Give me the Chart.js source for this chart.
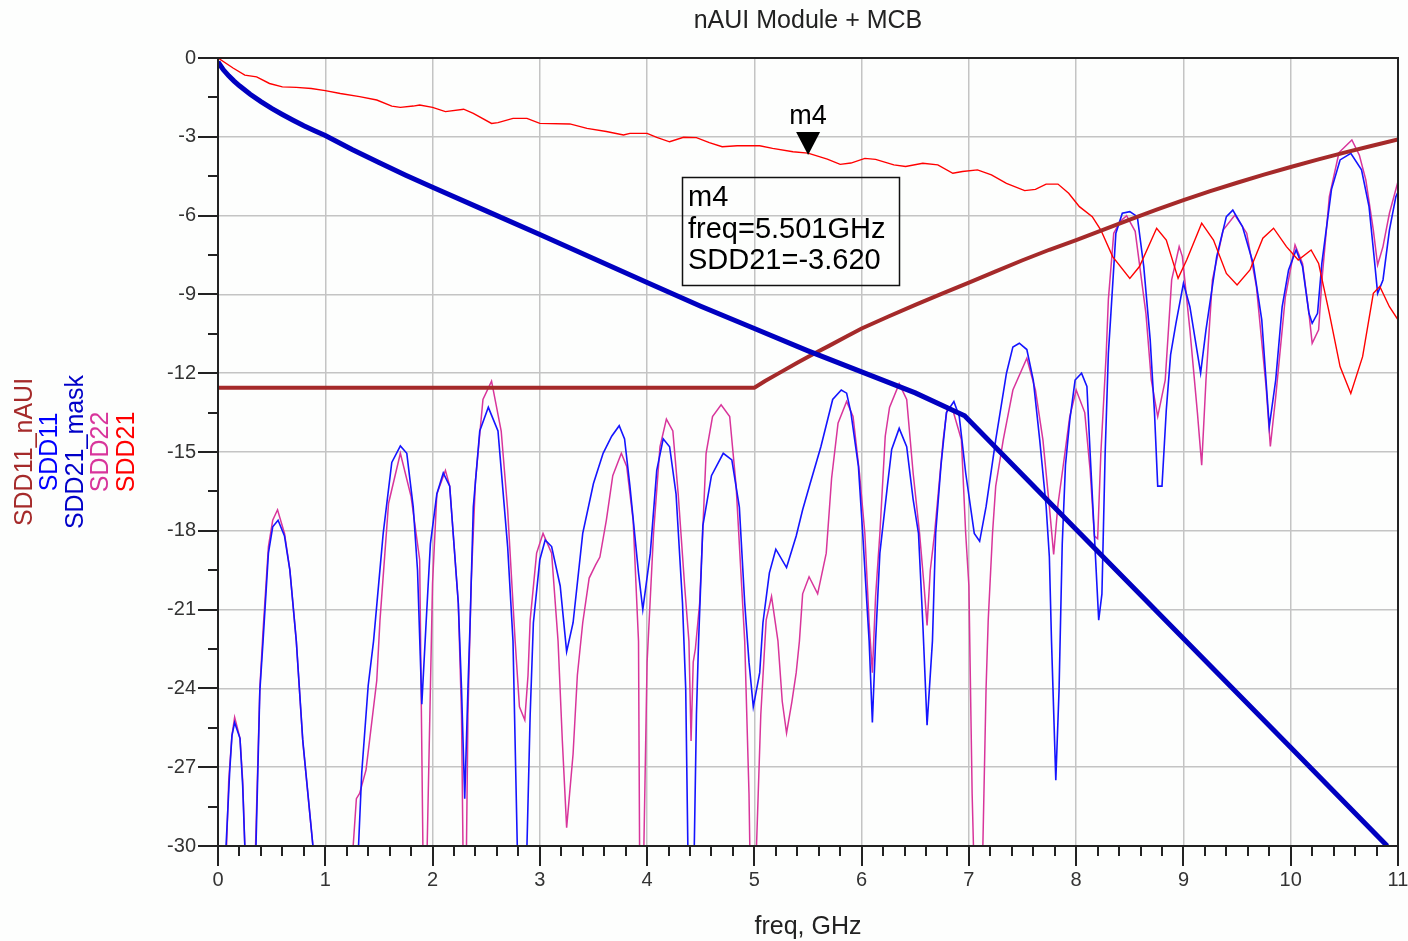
<!DOCTYPE html>
<html>
<head>
<meta charset="utf-8">
<script src="https://cdn.jsdelivr.net/npm/chart.js@4.4.1/dist/chart.umd.min.js"></script>
<style>
  html, body { margin: 0; padding: 0; background: #fdfefd; }
  #wrap { width: 1408px; height: 941px; }
</style>
</head>
<body>
<div id="wrap"><canvas id="chart" width="1408" height="941"></canvas></div>
<script>
// axis ranges / ticks
const xMax = 11, xStep = 1, xMinor = 0.2;
const yMin = -30, yMax = 0, yStep = 3, yMinor = 1.5;
const titleText = 'nAUI Module + MCB';
const xTitle = 'freq, GHz';
const legendNames = ['SDD11_nAUI', 'SDD11', 'SDD21_mask', 'SDD22', 'SDD21'];
const legendColors = ['#a52a2a', '#0000ff', '#0000c8', '#d8359b', '#ff0000'];
const markerName = 'm4', markerFreq = 5.501, markerDb = -3.620;

// [freq GHz, dB]; values below -30 run off the bottom
const sdd21 = [[0,0],[0.14,-0.38],[0.25,-0.65],[0.36,-0.72],[0.48,-0.97],[0.6,-1.1],[0.73,-1.12],[0.87,-1.16],[1.0,-1.24],[1.14,-1.35],[1.32,-1.47],[1.48,-1.6],[1.62,-1.83],[1.7,-1.88],[1.82,-1.83],[1.88,-1.79],[2.0,-1.88],[2.12,-2.04],[2.29,-1.95],[2.38,-2.11],[2.55,-2.49],[2.61,-2.46],[2.75,-2.3],[2.88,-2.3],[3.0,-2.49],[3.28,-2.51],[3.44,-2.68],[3.62,-2.8],[3.78,-2.93],[3.84,-2.87],[4.0,-2.87],[4.09,-3.02],[4.21,-3.19],[4.34,-3.02],[4.46,-3.03],[4.58,-3.22],[4.7,-3.38],[4.84,-3.34],[5.05,-3.34],[5.17,-3.44],[5.36,-3.57],[5.5,-3.62],[5.68,-3.85],[5.8,-4.05],[5.9,-4.0],[6.03,-3.82],[6.13,-3.86],[6.3,-4.07],[6.41,-4.13],[6.57,-4.01],[6.71,-4.07],[6.85,-4.39],[6.94,-4.32],[7.08,-4.26],[7.21,-4.45],[7.35,-4.77],[7.52,-5.05],[7.62,-5.0],[7.72,-4.8],[7.83,-4.8],[7.93,-5.15],[8.03,-5.66],[8.15,-6.04],[8.23,-6.55],[8.34,-7.56],[8.5,-8.39],[8.59,-7.94],[8.75,-6.48],[8.84,-6.93],[8.95,-8.39],[9.03,-7.69],[9.17,-6.29],[9.28,-6.93],[9.4,-8.2],[9.5,-8.64],[9.62,-8.07],[9.74,-6.86],[9.84,-6.48],[9.96,-7.18],[10.07,-7.69],[10.19,-7.31],[10.26,-7.82],[10.36,-9.72],[10.46,-11.75],[10.56,-12.77],[10.67,-11.37],[10.77,-8.96],[10.83,-8.7],[10.92,-9.47],[11.0,-9.97]];

const sdd11 = [[0.05,-36],[0.075,-30],[0.11,-27.1],[0.13,-25.8],[0.155,-25.3],[0.18,-25.6],[0.205,-25.9],[0.23,-27.7],[0.25,-30],[0.3,-37],[0.354,-30],[0.39,-24.1],[0.42,-22.2],[0.47,-18.85],[0.51,-17.85],[0.56,-17.6],[0.62,-18.2],[0.67,-19.5],[0.73,-22.2],[0.79,-25.96],[0.885,-30],[0.95,-36],[1.25,-36],[1.31,-30],[1.34,-27.2],[1.4,-23.9],[1.45,-22.2],[1.54,-18.1],[1.62,-15.4],[1.7,-14.77],[1.76,-15.05],[1.82,-17.1],[1.86,-19.5],[1.9,-24.6],[1.94,-21.5],[1.98,-18.5],[2.04,-16.6],[2.1,-15.8],[2.16,-16.3],[2.24,-20.75],[2.27,-24],[2.3,-28.2],[2.33,-24],[2.35,-21.5],[2.38,-17.1],[2.44,-14.2],[2.52,-13.3],[2.61,-14.2],[2.7,-18.6],[2.75,-22.2],[2.79,-30],[2.83,-36],[2.88,-30],[2.91,-25],[2.94,-21.5],[3.0,-19.1],[3.05,-18.35],[3.11,-18.6],[3.19,-20.1],[3.25,-22.6],[3.31,-21.5],[3.4,-18.1],[3.5,-16.2],[3.59,-15.05],[3.67,-14.4],[3.74,-14.0],[3.79,-14.5],[3.84,-16.3],[3.92,-19.6],[3.96,-21.0],[4.03,-18.85],[4.09,-15.7],[4.15,-14.5],[4.21,-14.8],[4.27,-16.6],[4.33,-20.75],[4.36,-24],[4.38,-30],[4.41,-36],[4.44,-30],[4.46,-25],[4.48,-22.2],[4.52,-17.8],[4.6,-15.9],[4.71,-15.05],[4.79,-15.3],[4.86,-17.1],[4.91,-20.75],[4.95,-23],[4.99,-24.7],[5.05,-23.4],[5.08,-21.5],[5.14,-19.6],[5.2,-18.7],[5.3,-19.4],[5.39,-18.2],[5.45,-17.2],[5.52,-16.2],[5.62,-14.8],[5.73,-13.0],[5.81,-12.64],[5.86,-12.76],[5.9,-13.5],[5.97,-15.55],[6.01,-18.1],[6.07,-22.2],[6.1,-25.3],[6.13,-22.2],[6.17,-18.85],[6.24,-16.3],[6.28,-14.9],[6.35,-14.1],[6.42,-14.8],[6.48,-16.8],[6.53,-18.1],[6.57,-21.5],[6.61,-25.4],[6.66,-22.2],[6.69,-18.1],[6.74,-15.5],[6.79,-13.5],[6.86,-13.08],[6.91,-13.65],[6.97,-15.8],[7.05,-18.1],[7.1,-18.4],[7.16,-17.08],[7.25,-14.54],[7.35,-12.0],[7.41,-11.0],[7.47,-10.86],[7.54,-11.1],[7.6,-12.26],[7.66,-14.54],[7.72,-17.08],[7.75,-19],[7.77,-22.2],[7.81,-27.5],[7.84,-24.1],[7.87,-18.5],[7.9,-15.5],[7.94,-13.8],[7.99,-12.26],[8.05,-12.0],[8.1,-12.5],[8.13,-15.05],[8.17,-18.2],[8.21,-21.4],[8.24,-20.4],[8.27,-15.05],[8.3,-11.25],[8.32,-9.97],[8.37,-6.67],[8.43,-5.91],[8.5,-5.85],[8.57,-6.04],[8.63,-7.94],[8.69,-10.73],[8.73,-13.5],[8.76,-16.3],[8.8,-16.3],[8.84,-13.4],[8.88,-11.3],[8.93,-10.1],[9.0,-8.58],[9.06,-9.47],[9.16,-12.0],[9.21,-10.35],[9.31,-7.56],[9.4,-6.04],[9.46,-5.79],[9.55,-6.42],[9.65,-7.82],[9.73,-9.97],[9.8,-14.03],[9.86,-12.26],[9.92,-9.47],[9.98,-8.07],[10.05,-7.31],[10.11,-7.94],[10.17,-9.72],[10.2,-10.1],[10.25,-9.72],[10.29,-7.82],[10.38,-5.0],[10.46,-3.88],[10.56,-3.63],[10.66,-4.26],[10.73,-5.66],[10.78,-7.69],[10.81,-8.96],[10.86,-8.45],[10.92,-6.55],[10.98,-5.28],[11.0,-5.1]];

const sdd22 = [[0.05,-36],[0.08,-30],[0.1,-27.5],[0.13,-25.8],[0.155,-25.1],[0.18,-25.5],[0.205,-25.9],[0.23,-27.5],[0.25,-30],[0.3,-37],[0.35,-30],[0.39,-24],[0.42,-21.8],[0.47,-18.6],[0.51,-17.6],[0.555,-17.2],[0.62,-18.1],[0.67,-19.5],[0.73,-22.2],[0.79,-26],[0.885,-30],[0.95,-36],[1.2,-36],[1.26,-30],[1.29,-28.2],[1.32,-28.0],[1.38,-27.1],[1.48,-23.7],[1.51,-21.4],[1.59,-16.95],[1.7,-15.05],[1.8,-16.7],[1.88,-19.1],[1.91,-30],[1.93,-36],[1.95,-30],[2.0,-20],[2.04,-16.6],[2.12,-15.7],[2.16,-16.3],[2.24,-20.75],[2.27,-25],[2.3,-36],[2.33,-25],[2.36,-20],[2.4,-16.1],[2.47,-13.0],[2.55,-12.3],[2.64,-14.2],[2.7,-17.2],[2.77,-22.2],[2.81,-24.7],[2.86,-25.2],[2.89,-23.5],[2.91,-21.4],[2.97,-18.85],[3.03,-18.1],[3.11,-18.85],[3.17,-22.2],[3.21,-26],[3.25,-29.3],[3.31,-26.5],[3.35,-23.5],[3.4,-21.5],[3.46,-19.8],[3.52,-19.3],[3.56,-19.0],[3.62,-17.6],[3.68,-15.9],[3.76,-15.05],[3.81,-15.55],[3.87,-17.6],[3.92,-22.2],[3.93,-30],[3.95,-36],[3.97,-30],[4.0,-23],[4.06,-18.1],[4.12,-14.8],[4.18,-13.75],[4.24,-14.2],[4.29,-16.6],[4.35,-20.1],[4.39,-22.2],[4.41,-26],[4.43,-23],[4.45,-22.5],[4.49,-20.75],[4.55,-15.05],[4.61,-13.65],[4.69,-13.2],[4.77,-13.65],[4.83,-16.3],[4.91,-22.2],[4.95,-28],[4.98,-36],[5.02,-30],[5.06,-25],[5.11,-21.4],[5.16,-20.5],[5.22,-22.2],[5.26,-24.5],[5.3,-25.7],[5.35,-24.5],[5.39,-23.4],[5.42,-22.2],[5.45,-20.4],[5.51,-19.75],[5.59,-20.4],[5.67,-18.85],[5.72,-16],[5.78,-13.9],[5.86,-13.08],[5.92,-13.65],[5.98,-15.81],[6.03,-18.1],[6.07,-21.5],[6.1,-23.4],[6.13,-20.5],[6.17,-18.1],[6.22,-14.4],[6.26,-13.3],[6.35,-12.4],[6.42,-13.0],[6.48,-15.8],[6.54,-18.1],[6.58,-20],[6.61,-21.6],[6.64,-19.5],[6.68,-18.1],[6.76,-14.54],[6.8,-13.27],[6.85,-13.4],[6.93,-14.54],[6.97,-18.1],[7.0,-20.1],[7.03,-28],[7.08,-36],[7.13,-30],[7.16,-24],[7.18,-21.4],[7.22,-18.1],[7.25,-16.3],[7.32,-14.54],[7.41,-12.64],[7.54,-11.43],[7.62,-12.64],[7.69,-14.54],[7.75,-17.08],[7.79,-18.9],[7.83,-17],[7.87,-15.8],[7.94,-13.65],[8.0,-12.64],[8.08,-13.5],[8.13,-15.7],[8.17,-18.2],[8.2,-18.3],[8.23,-15.05],[8.28,-11.25],[8.3,-9.2],[8.35,-6.67],[8.41,-6.22],[8.47,-6.0],[8.55,-6.6],[8.65,-9.72],[8.7,-12.26],[8.76,-13.65],[8.83,-12.26],[8.89,-8.45],[8.96,-7.18],[8.99,-7.56],[9.06,-10.35],[9.13,-13.5],[9.17,-15.5],[9.21,-12.26],[9.27,-8.45],[9.37,-6.55],[9.48,-5.98],[9.59,-6.67],[9.68,-8.7],[9.77,-12.5],[9.81,-14.79],[9.86,-12.9],[9.95,-9.09],[10.04,-7.12],[10.11,-7.82],[10.17,-9.72],[10.2,-10.86],[10.26,-10.35],[10.29,-8.5],[10.36,-5.28],[10.45,-3.6],[10.57,-3.12],[10.64,-3.7],[10.7,-4.64],[10.77,-6.55],[10.81,-7.88],[10.86,-7.18],[10.92,-5.91],[11.0,-4.7]];

const sdd21Mask = [[0,-0.15],[0.05,-0.45],[0.1,-0.68],[0.15,-0.88],[0.2,-1.06],[0.3,-1.38],[0.4,-1.66],[0.5,-1.92],[0.6,-2.15],[0.7,-2.37],[0.8,-2.58],[0.9,-2.77],[1.0,-2.95],[1.25,-3.48],[1.5,-3.98],[1.75,-4.46],[2.0,-4.92],[2.5,-5.82],[3.0,-6.72],[3.5,-7.63],[4.0,-8.55],[4.5,-9.45],[5.0,-10.3],[5.5,-11.15],[6.0,-11.95],[6.5,-12.75],[6.96,-13.62],[8.0,-17.95],[9.0,-22.1],[10.0,-26.25],[10.9,-30.0]];

const sdd11nAUI = [[0,-12.55],[5.0,-12.55],[5.1,-12.3],[5.25,-11.95],[5.4,-11.6],[5.55,-11.27],[5.7,-10.95],[5.85,-10.62],[6.0,-10.3],[6.25,-9.84],[6.5,-9.4],[6.75,-8.97],[7.0,-8.55],[7.25,-8.12],[7.5,-7.7],[7.75,-7.3],[8.0,-6.93],[8.25,-6.54],[8.5,-6.15],[8.75,-5.77],[9.0,-5.41],[9.25,-5.07],[9.5,-4.75],[9.75,-4.44],[10.0,-4.15],[10.25,-3.87],[10.5,-3.6],[10.75,-3.35],[11.0,-3.1]];

const FONT = '"Liberation Sans", Arial, sans-serif';
const toXY = pts => pts.map(p => ({ x: p[0], y: p[1] }));

// frame, tick marks, title, rotated legend and marker
const overlay = {
    id: 'overlay',
    afterDraw(chart) {
        const ctx = chart.ctx;
        const a = chart.chartArea;
        const x = chart.scales.x, y = chart.scales.y;
        ctx.save();

        ctx.strokeStyle = '#222';
        ctx.lineWidth = 2;
        ctx.strokeRect(a.left, a.top, a.right - a.left, a.bottom - a.top);

        // x ticks (major long, minor short) below the axis
        const nx = Math.round(xMax / xMinor);
        for (let i = 0; i <= nx; i++) {
            const px = Math.round(x.getPixelForValue(i * xMinor));
            const len = (i % Math.round(xStep / xMinor) === 0) ? 20 : 10;
            ctx.beginPath();
            ctx.moveTo(px, a.bottom);
            ctx.lineTo(px, a.bottom + len);
            ctx.stroke();
        }
        // y ticks left of the axis
        const ny = Math.round((yMax - yMin) / yMinor);
        for (let i = 0; i <= ny; i++) {
            const py = Math.round(y.getPixelForValue(yMax - i * yMinor));
            const len = (i % Math.round(yStep / yMinor) === 0) ? 20 : 10;
            ctx.beginPath();
            ctx.moveTo(a.left, py);
            ctx.lineTo(a.left - len, py);
            ctx.stroke();
        }

        const cx = (a.left + a.right) / 2;
        ctx.fillStyle = '#222';
        ctx.textAlign = 'center';
        ctx.textBaseline = 'alphabetic';
        ctx.font = '25px ' + FONT;
        ctx.fillText(titleText, cx, 28);
        ctx.fillText(xTitle, cx, 934);

        // stacked, rotated series names on the left
        const cy = (a.top + a.bottom) / 2;
        ctx.textBaseline = 'middle';
        ctx.font = '25px ' + FONT;
        legendNames.forEach((name, i) => {
            ctx.save();
            ctx.translate(25 + i * 25.5, cy);
            ctx.rotate(-Math.PI / 2);
            ctx.fillStyle = legendColors[i];
            ctx.fillText(name, 0, 0);
            ctx.restore();
        });

        // marker m4
        const mx = x.getPixelForValue(markerFreq);
        const my = y.getPixelForValue(markerDb);
        ctx.fillStyle = '#000';
        ctx.beginPath();
        ctx.moveTo(mx, my + 2);
        ctx.lineTo(mx - 12, my - 21);
        ctx.lineTo(mx + 12, my - 21);
        ctx.closePath();
        ctx.fill();
        ctx.textBaseline = 'alphabetic';
        ctx.font = '27px ' + FONT;
        ctx.fillText(markerName, mx, my - 29);

        // readout box
        ctx.strokeStyle = '#111';
        ctx.lineWidth = 1.5;
        ctx.strokeRect(682.5, 177.5, 217, 108);
        ctx.textAlign = 'left';
        ctx.font = '29px ' + FONT;
        ctx.fillText(markerName, 688, 206);
        ctx.fillText('freq=' + markerFreq.toFixed(3) + 'GHz', 688, 238);
        ctx.fillText('SDD21=' + markerDb.toFixed(3), 688, 269);

        ctx.restore();
    }
};

const ctx = document.getElementById('chart').getContext('2d');
const chart = new Chart(ctx, {
    type: 'line',
    data: {
        datasets: [
            { label: 'SDD21_mask', data: toXY(sdd21Mask), borderColor: '#0000c0', borderWidth: 5, order: 0 },
            { label: 'SDD11_nAUI', data: toXY(sdd11nAUI), borderColor: '#a52a2a', borderWidth: 4, order: 1 },
            { label: 'SDD21', data: toXY(sdd21), borderColor: '#ff0000', borderWidth: 1.4, order: 2 },
            { label: 'SDD11', data: toXY(sdd11), borderColor: '#1414ff', borderWidth: 1.6, order: 3 },
            { label: 'SDD22', data: toXY(sdd22), borderColor: '#d8359b', borderWidth: 1.5, order: 4 }
        ]
    },
    options: {
        responsive: false,
        animation: false,
        elements: { point: { radius: 0 }, line: { tension: 0 } },
        layout: { padding: { left: 0, top: 58, right: 10, bottom: 0 } },
        plugins: {
            legend: { display: false },
            tooltip: { enabled: false },
            title: { display: false }
        },
        scales: {
            x: {
                type: 'linear',
                min: 0,
                max: xMax,
                border: { display: false },
                grid: { color: '#c4c4c4', lineWidth: 1.5, tickLength: 20, tickColor: 'transparent' },
                ticks: { stepSize: xStep, autoSkip: false, maxRotation: 0, padding: 2, color: '#333', font: { family: FONT, size: 20 } },
                afterFit(s) { s.height = 95; s.paddingLeft = 0; s.paddingRight = 0; }
            },
            y: {
                type: 'linear',
                min: yMin,
                max: yMax,
                border: { display: false },
                grid: { color: '#c4c4c4', lineWidth: 1.5, tickLength: 20, tickColor: 'transparent' },
                ticks: { stepSize: yStep, padding: 2, color: '#333', font: { family: FONT, size: 20 } },
                afterFit(s) { s.width = 218; s.paddingTop = 0; s.paddingBottom = 0; }
            }
        }
    },
    plugins: [overlay]
});
</script>
</body>
</html>
